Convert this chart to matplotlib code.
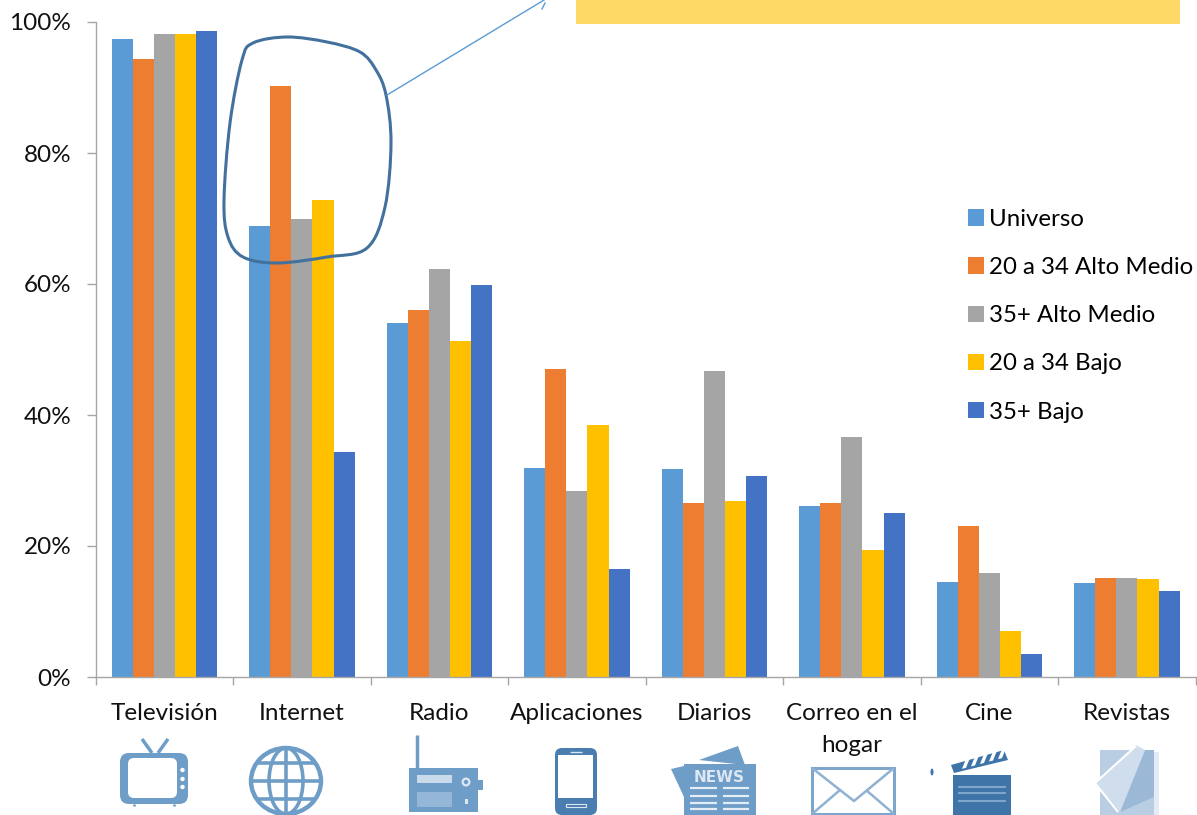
import numpy as np
import matplotlib
matplotlib.use("Agg")
import matplotlib.pyplot as plt
from matplotlib.patches import Rectangle, FancyBboxPatch, Polygon, Ellipse, Circle, PathPatch
from matplotlib.path import Path

plt.rcParams['font.family'] = ['Lato', 'DejaVu Sans']

categories = ["Televisión", "Internet", "Radio", "Aplicaciones", "Diarios",
              "Correo en el\nhogar", "Cine", "Revistas"]
universo = [97.4, 68.9, 54.0, 31.9, 31.8, 26.1, 14.5, 14.3]
joven_alto = [94.4, 90.2, 56.0, 47.0, 26.6, 26.6, 23.0, 15.1]
mayor_alto = [98.2, 69.9, 62.3, 28.4, 46.7, 36.6, 15.9, 15.1]
joven_bajo = [98.2, 72.8, 51.3, 38.4, 26.9, 19.4, 7.0, 15.0]
mayor_bajo = [98.7, 34.4, 59.8, 16.5, 30.7, 25.0, 3.5, 13.1]
series_names = ["Universo", "20 a 34 Alto Medio", "35+ Alto Medio", "20 a 34 Bajo", "35+ Bajo"]
series_colors = ["#5B9BD5", "#ED7D31", "#A5A5A5", "#FFC000", "#4472C4"]
yticks = [0, 20, 40, 60, 80, 100]

W, H = 1197, 815
fig = plt.figure(figsize=(W / 100, H / 100), dpi=100, facecolor="white")
ax = fig.add_axes([95.6 / W, 1 - 677 / H, 1100 / W, 655 / H])
ax.set_xlim(0, 8)
ax.set_ylim(0, 100)
x = np.arange(8) + 0.5
bw = 0.1535
for i, (vals, name, col) in enumerate(zip([universo, joven_alto, mayor_alto, joven_bajo, mayor_bajo],
                                          series_names, series_colors)):
    ax.bar(x + (i - 2) * bw, vals, bw, color=col, label=name, linewidth=0, zorder=2)

for s in ("top", "right"):
    ax.spines[s].set_visible(False)
for s in ("left", "bottom"):
    ax.spines[s].set_color("#A6A6A6")
    ax.spines[s].set_linewidth(1)
ax.set_yticks(yticks)
ax.set_yticklabels([f"{v}%" for v in yticks], fontsize=17.5, color="#111111")
ax.set_xticks(np.arange(9))
ax.set_xticklabels([])
ax.set_xticks(x, minor=True)
ax.set_xticklabels(categories, minor=True, fontsize=17.5, color="#111111", linespacing=1.6, va="top")
ax.tick_params(axis="x", which="major", length=5.8, color="#A6A6A6", width=1)
ax.tick_params(axis="x", which="minor", length=0, pad=19)
ax.tick_params(axis="y", length=6.5, color="#A6A6A6", width=1, pad=11)

leg = ax.legend(loc="upper left", bbox_to_anchor=(968 / W, 1 - 209 / H), bbox_transform=fig.transFigure,
                frameon=False, fontsize=17.3, handlelength=0.68, handleheight=0.68, handletextpad=0.2,
                labelspacing=1.13, borderpad=0, borderaxespad=0)

# Overlay in pixel coordinates for the annotations and the pictograms
ov = fig.add_axes([0, 0, 1, 1], facecolor="none")
ov.set_xlim(0, W)
ov.set_ylim(H, 0)
ov.axis("off")

ov.add_patch(Rectangle((576, -2), 604, 26, color="#FFD966", lw=0))

# Hand-drawn loop
pts = np.array([(386, 95), (391, 143), (385, 207), (367, 248), (327, 257), (277, 263), (243, 257),
                (228, 237), (224, 200), (230, 123), (242, 60), (253, 43), (287, 37), (327, 42),
                (360, 52), (376, 70)], float)
n = len(pts)
verts = [tuple(pts[0])]
codes = [Path.MOVETO]
for i in range(n):
    p0, p1, p2, p3 = pts[i - 1], pts[i], pts[(i + 1) % n], pts[(i + 2) % n]
    verts += [tuple(p1 + (p2 - p0) / 6), tuple(p2 - (p3 - p1) / 6), tuple(p2)]
    codes += [Path.CURVE4] * 3
ov.add_patch(PathPatch(Path(verts, codes), fc="none", ec="#41719C", lw=2.2))
ov.plot([387, 549], [95, -3], color="#5B9BD5", lw=1)
ov.plot([542, 545], [9, 3], color="#5B9BD5", lw=1)

C = "#6E9DC8"
D = "#3F74A8"

def rr(x0, y0, x1, y1, r, fc, ec="none", lw=0, z=3):
    ov.add_patch(FancyBboxPatch((x0 + r, y0 + r), x1 - x0 - 2 * r, y1 - y0 - 2 * r,
                                boxstyle=f"round,pad={r},rounding_size={r}", fc=fc, ec=ec, lw=lw, zorder=z))

def poly(p, fc, z=3, ec="none", lw=0):
    ov.add_patch(Polygon(p, closed=True, fc=fc, ec=ec, lw=lw, zorder=z))

def ln(xs, ys, c=C, lw=2, z=3):
    ov.plot(xs, ys, color=c, lw=lw, zorder=z, solid_capstyle="butt")

# Television
rr(120, 753, 188, 804, 9, C)
rr(128, 758, 177, 798, 6, "white", z=4)
for yy in (770, 779, 787):
    ov.add_patch(Circle((182.5, yy), 2.2, fc="white", ec="none", zorder=4))
ln([142, 152], [739, 753], lw=2.5)
ln([168, 158], [739, 753], lw=2.5)
ln([134, 134], [804, 806], lw=2)
ln([174, 174], [804, 806], lw=2)

# Globe
ov.add_patch(Ellipse((286, 781), 70, 66, fc="white", ec=C, lw=3.2, zorder=3))
ov.add_patch(Ellipse((286, 781), 34, 66, fc="none", ec=C, lw=2.6, zorder=3))
ln([286, 286], [748, 814], lw=2.6)
ln([251, 321], [781, 781], lw=2.6)
ln([257, 315], [763, 763], lw=2.6)
ln([257, 315], [799, 799], lw=2.6)

# Radio
ln([417, 417], [735, 768], lw=2.5)
ov.add_patch(Rectangle((409, 768), 69, 44, fc=C, ec="none", zorder=3))
ov.add_patch(Rectangle((478, 780), 5, 10, fc=C, ec="none", zorder=3))
ov.add_patch(Rectangle((417, 775), 35, 8, fc="#C9DAEA", ec="none", zorder=4))
ov.add_patch(Rectangle((417, 792), 35, 15, fc="#94B7D8", ec="none", zorder=4))
ov.add_patch(Circle((466, 782), 4.5, fc="#DCE7F2", ec="none", zorder=4))
ov.add_patch(Circle((466, 782), 2.2, fc=C, ec="none", zorder=5))
ov.add_patch(Rectangle((465, 799), 3, 5, fc="#DCE7F2", ec="none", zorder=4))

# Phone
rr(555, 748, 597, 815, 7, "#4A7DB0")
ov.add_patch(Rectangle((558, 755), 35, 43, fc="white", ec="none", zorder=4))
ln([570, 582], [751.5, 751.5], c="#DCE7F2", lw=1)
ov.add_patch(Rectangle((566, 804), 20, 3, fc="none", ec="#DCE7F2", lw=0.8, zorder=4))

# Newspaper
poly([(699, 760), (738, 746), (745, 765)], C)
poly([(671, 769), (684, 766), (684, 797)], C)
ov.add_patch(Rectangle((684, 764), 72, 51, fc=C, ec="none", zorder=3))
ov.text(719, 777, "NEWS", color="#DCE7F2", fontsize=11, fontweight="bold", ha="center", va="center",
        family="DejaVu Sans", zorder=4)
for yy in (788, 796, 803, 809):
    ln([690, 717], [yy, yy], c="#E4ECF5", lw=1.6, z=4)
    ln([723, 749], [yy, yy], c="#E4ECF5", lw=1.6, z=4)

# Envelope
ov.add_patch(Rectangle((812, 768), 82, 46, fc="white", ec="#7EA6CC", lw=2.2, zorder=3))
ln([812, 854, 894], [768, 801, 768], c="#8FB1D2", lw=1.8)
ln([812, 840], [814, 790], c="#8FB1D2", lw=1.8)
ln([894, 866], [814, 790], c="#8FB1D2", lw=1.8)

# Clapperboard
ov.add_patch(Rectangle((953, 775), 58, 41, fc=D, ec="none", zorder=3))
for yy in (787, 793, 801):
    ln([958, 1006], [yy, yy], c="#7FA5CB", lw=1.5, z=4)
poly([(951, 765), (1004, 750), (1008, 760), (954, 773)], D)
for sx in range(962, 1002, 9):
    poly([(sx, 771 - (sx - 954) * 0.27), (sx + 4, 770 - (sx - 954) * 0.27),
          (sx + 8, 760 - (sx - 954) * 0.27), (sx + 4, 761 - (sx - 954) * 0.27)], "white", z=4)
ov.add_patch(Ellipse((932, 772), 3, 7, fc=D, ec="none", zorder=3))

# Magazine
ov.add_patch(Rectangle((1154, 752), 5, 63, fc="#E3EBF4", ec="none", zorder=3))
ov.add_patch(Rectangle((1100, 750), 54, 65, fc="#B9CEE3", ec="none", zorder=3))
poly([(1145, 750), (1154, 750), (1154, 797), (1120, 812)], "#9BB9D7", z=4)
poly([(1136, 745), (1145, 750), (1120, 812), (1095, 783)], "#CFDDEC", z=4)
ln([1136, 1095, 1118], [746, 783, 812], c="white", lw=1.5, z=5)

fig.savefig("out.png", dpi=100, facecolor="white")
